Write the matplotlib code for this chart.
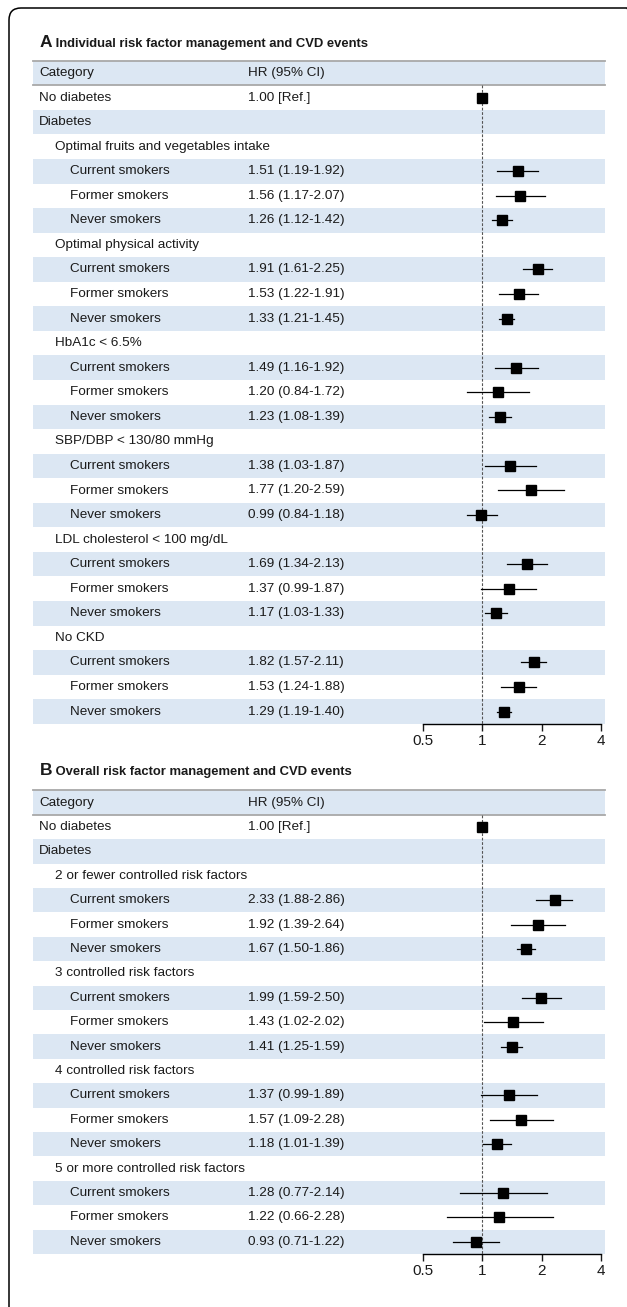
import matplotlib
matplotlib.use("Agg")
import matplotlib.pyplot as plt
from matplotlib.patches import FancyBboxPatch
from matplotlib.transforms import IdentityTransform

plt.rcParams['font.family'] = ['Liberation Sans', 'DejaVu Sans']

W, H = 627, 1307
BAND = '#dce7f3'
TEXT = '#1a1a1a'

smokers = ['Current smokers', 'Former smokers', 'Never smokers']

# Panel A: individual risk factor management
groups_a = ['Optimal fruits and vegetables intake', 'Optimal physical activity',
            'HbA1c < 6.5%', 'SBP/DBP < 130/80 mmHg',
            'LDL cholesterol < 100 mg/dL', 'No CKD']
hr_a = [1.51, 1.56, 1.26, 1.91, 1.53, 1.33, 1.49, 1.20, 1.23,
        1.38, 1.77, 0.99, 1.69, 1.37, 1.17, 1.82, 1.53, 1.29]
lo_a = [1.19, 1.17, 1.12, 1.61, 1.22, 1.21, 1.16, 0.84, 1.08,
        1.03, 1.20, 0.84, 1.34, 0.99, 1.03, 1.57, 1.24, 1.19]
hi_a = [1.92, 2.07, 1.42, 2.25, 1.91, 1.45, 1.92, 1.72, 1.39,
        1.87, 2.59, 1.18, 2.13, 1.87, 1.33, 2.11, 1.88, 1.40]

# Panel B: overall risk factor management
groups_b = ['2 or fewer controlled risk factors', '3 controlled risk factors',
            '4 controlled risk factors', '5 or more controlled risk factors']
hr_b = [2.33, 1.92, 1.67, 1.99, 1.43, 1.41, 1.37, 1.57, 1.18,
        1.28, 1.22, 0.93]
lo_b = [1.88, 1.39, 1.50, 1.59, 1.02, 1.25, 0.99, 1.09, 1.01,
        0.77, 0.66, 0.71]
hi_b = [2.86, 2.64, 1.86, 2.50, 2.02, 1.59, 1.89, 2.28, 1.39,
        2.14, 2.28, 1.22]

ticks = [0.5, 1, 2, 4]
tick_labels = ['0.5', '1', '2', '4']


def build_rows(groups, hr, lo, hi):
    # (label, indent level, hr, lo, hi)
    rows = [('No diabetes', 0, 1.0, None, None), ('Diabetes', 0, None, None, None)]
    k = 0
    for g in groups:
        rows.append((g, 1, None, None, None))
        for s in smokers:
            rows.append((s, 2, hr[k], lo[k], hi[k]))
            k += 1
    return rows


def draw_panel(fig, letter, title, rows, top, row_h, title_y):
    n = len(rows)
    tab_l, tab_r = 33, 605
    bottom = top + (n + 1) * row_h
    rect = [tab_l / W, 1 - bottom / H, (tab_r - tab_l) / W, (bottom - top) / H]
    ax = fig.add_axes(rect)
    ax.set_xlim(0, 1)
    ax.set_ylim(n - 0.5, -1.5)
    ax.axis('off')

    for i in range(-1, n):
        if (i + 1) % 2 == 0:
            ax.axhspan(i - 0.5, i + 0.5, color=BAND, lw=0)
    for yy in (-1.5, -0.5):
        ax.axhline(yy, color='#a8a8a8', lw=1.3, clip_on=False)

    def fx(px):
        return (px - tab_l) / (tab_r - tab_l)

    indent = {0: 39, 1: 55, 2: 70}
    fs = 9.7
    ax.text(fx(39), -1, 'Category', va='center', fontsize=fs, color=TEXT)
    ax.text(fx(248), -1, 'HR (95% CI)', va='center', fontsize=fs, color=TEXT)
    for i, (lab, lev, h, l, u) in enumerate(rows):
        ax.text(fx(indent[lev]), i, lab, va='center', fontsize=fs, color=TEXT)
        if h is not None:
            s = '1.00 [Ref.]' if l is None else f'{h:.2f} ({l:.2f}-{u:.2f})'
            ax.text(fx(248), i, s, va='center', fontsize=fs, color=TEXT)

    # forest axis
    f_l, f_r = 423, 601
    axf = fig.add_axes([f_l / W, rect[1], (f_r - f_l) / W, rect[3]])
    axf.patch.set_alpha(0)
    axf.set_xscale('log')
    axf.set_xlim(0.5, 4)
    axf.set_ylim(n - 0.5, -1.5)
    for sp in ('top', 'left', 'right'):
        axf.spines[sp].set_visible(False)
    axf.spines['bottom'].set_linewidth(1.0)
    axf.set_yticks([])
    axf.set_xticks(ticks)
    axf.set_xticklabels(tick_labels)
    axf.minorticks_off()
    axf.tick_params(axis='x', length=5, width=1, labelsize=11, pad=2, colors=TEXT)
    axf.vlines(1, -0.5, n - 0.5, colors='#555555', linestyles=(0, (2.5, 1.5)), lw=0.8)
    for i, (lab, lev, h, l, u) in enumerate(rows):
        if h is None:
            continue
        if l is not None:
            axf.plot([l, u], [i, i], color='black', lw=0.9, clip_on=False)
        axf.plot(h, i, marker='s', ms=7.2, color='black', clip_on=False)

    t1 = fig.text(40 / W, 1 - title_y / H, letter, fontsize=12.5, fontweight='bold',
                  va='baseline', color=TEXT)
    ax.annotate(' ' + title, xy=(1, 0), xycoords=t1, va='bottom', ha='left',
                fontsize=9.4, fontweight='bold', color=TEXT)


fig = plt.figure(figsize=(W / 100, H / 100), dpi=100)

box = FancyBboxPatch((9, -40), 630, H - 8 + 40, boxstyle='round,pad=0,rounding_size=12',
                     transform=IdentityTransform(), fill=False, ec='black', lw=1.1)
fig.patches.append(box)

draw_panel(fig, 'A', 'Individual risk factor management and CVD events',
           build_rows(groups_a, hr_a, lo_a, hi_a), 60.7, 24.56, 47)
draw_panel(fig, 'B', 'Overall risk factor management and CVD events',
           build_rows(groups_b, hr_b, lo_b, hi_b), 790.4, 24.4, 775)

fig.savefig('out.png', dpi=100)
